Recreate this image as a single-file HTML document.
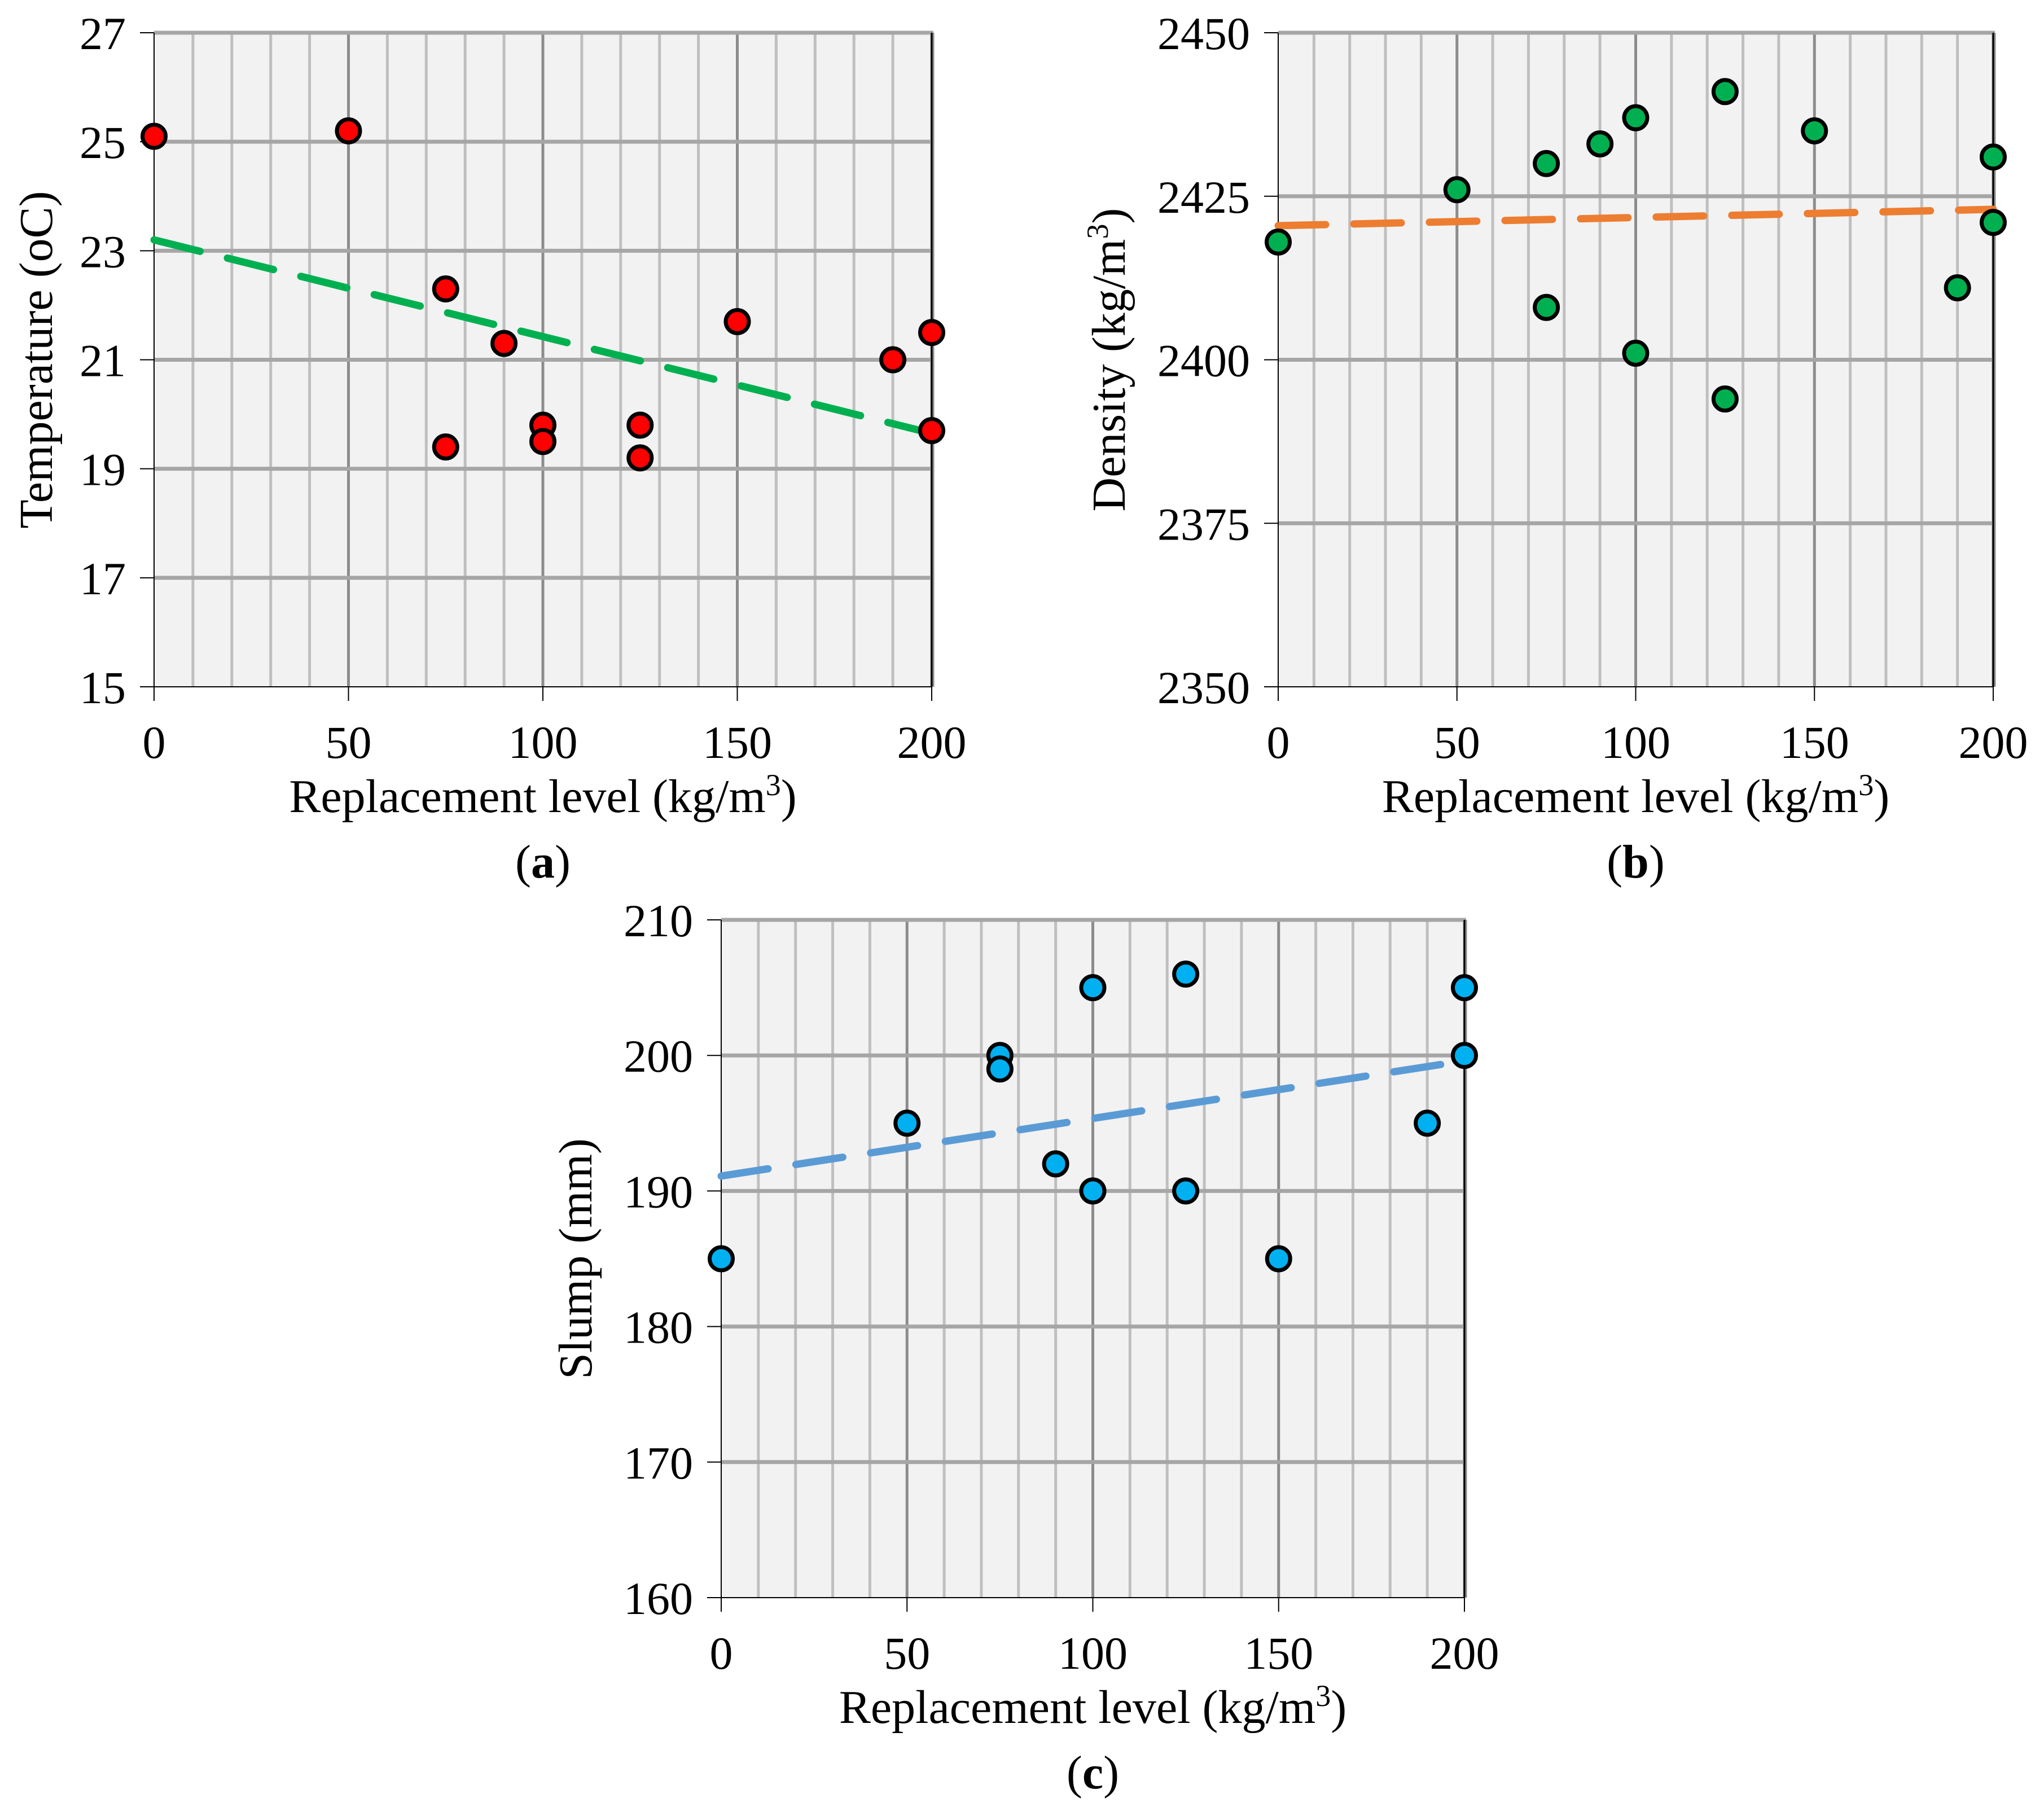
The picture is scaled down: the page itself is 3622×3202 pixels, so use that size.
<!DOCTYPE html>
<html><head><meta charset="utf-8"><style>
html,body{margin:0;padding:0;background:#fff}
svg{display:block}
text{font-family:"Liberation Serif",serif;fill:#000}
</style></head><body>
<svg id="fig" xmlns="http://www.w3.org/2000/svg" width="3622" height="3202" viewBox="0 0 3622 3202">
<rect width="3622" height="3202" fill="#fff"/>
</svg>
<script>
// ---- data: panel (a) temperature ----
const xA = [0,50,75,75,90,100,100,125,125,150,190,200,200];
const yA = [25.1,25.2,22.3,19.4,21.3,19.8,19.5,19.8,19.2,21.7,21.0,21.5,19.7];
const trendA = [23.2,19.65];
const yTicksA = [15,17,19,21,23,25,27];
// ---- data: panel (b) density ----
const xB = [0,50,75,75,90,100,100,125,125,150,190,200,200];
const yB = [2418,2426,2430,2408,2433,2437,2401,2441,2394,2435,2411,2431,2421];
const trendB = [2420.5,2423];
const yTicksB = [2350,2375,2400,2425,2450];
// ---- data: panel (c) slump ----
const xC = [0,50,75,75,90,100,100,125,125,150,190,200,200];
const yC = [185,195,200,199,192,205,190,206,190,185,195,205,200];
const trendC = [191.1,199.6];
const yTicksC = [160,170,180,190,200,210];
const xTicks = [0,50,100,150,200];
const trendX = [0,200];

const NS='http://www.w3.org/2000/svg';
const svg=document.getElementById('fig');
function mk(tag,attrs,parent){const e=document.createElementNS(NS,tag);for(const k in attrs)e.setAttribute(k,attrs[k]);(parent||svg).appendChild(e);return e;}

function panel(p){
  const g=mk('g',{});
  
  
  const yMin=p.yt[0], yMax=p.yt[p.yt.length-1];
  const sx=v=>p.L+(v-0)/(200-0)*(p.R-p.L);
  const sy=v=>p.B-(v-yMin)/(yMax-yMin)*(p.B-p.T);
  const bg=mk('rect',{x:p.L,y:p.T,width:p.R-p.L,height:p.B-p.T,fill:'#f2f2f2'},g);
  
  
  for(let v=10;v<=200;v+=10){
    const major=v%50===0;
    const ln=mk('line',{x1:sx(v),x2:sx(v),y1:p.T,y2:p.B,stroke:major?'#8c8c8c':'#bfbfbf','stroke-width':5},g);
    
    
  }
  p.yt.forEach((v,i)=>{
    if(i>0){
      const ln=mk('line',{x1:p.L,x2:p.R+3,y1:sy(v),y2:sy(v),stroke:'#a6a6a6','stroke-width':7},g);
      
      
    }
    mk('line',{x1:p.L-25,x2:p.L,y1:sy(v),y2:sy(v),stroke:'#000','stroke-width':2},g);
    const t=mk('text',{x:p.L-50,y:sy(v)+29,'text-anchor':'end','font-size':82},g);
    t.textContent=v;
    
    
  });
  mk('line',{x1:p.R,x2:p.R,y1:p.T,y2:p.B,stroke:'#000','stroke-width':3},g);
  mk('line',{x1:p.R+3,x2:p.R+3,y1:p.T,y2:p.B,stroke:'#8c8c8c','stroke-width':3},g);
  mk('line',{x1:p.L,x2:p.L,y1:p.T,y2:p.B+25,stroke:'#000','stroke-width':2},g);
  mk('line',{x1:p.L-25,x2:p.R,y1:p.B,y2:p.B,stroke:'#000','stroke-width':2},g);
  xTicks.forEach(v=>{
    mk('line',{x1:sx(v),x2:sx(v),y1:p.B,y2:p.B+25,stroke:'#000','stroke-width':2},g);
    const t=mk('text',{x:sx(v),y:p.B+126,'text-anchor':'middle','font-size':82},g);
    t.textContent=v;
    
    
  });
  const tr=mk('line',{x1:sx(trendX[0]),y1:sy(p.tr[0]),x2:sx(trendX[1]),y2:sy(p.tr[1]),stroke:p.lc,'stroke-width':13,'stroke-dasharray':'84 50','stroke-linecap':'round'},g);
  
  
  p.xs.forEach((x,i)=>{
    const c=mk('circle',{cx:sx(x),cy:sy(p.ys[i]),r:20.5,fill:p.mc,stroke:'#000','stroke-width':7},g);
    
    
  });
  const xt=mk('text',{x:(p.L+p.R)/2,y:p.B+222,'text-anchor':'middle','font-size':84},g);
  xt.innerHTML='Replacement level (kg/m<tspan dy="-30" font-size="54">3</tspan><tspan dy="30">)</tspan>';
  
  
  const yt=mk('text',{x:0,y:0,'text-anchor':'middle','font-size':84,transform:`translate(${p.yx},${(p.T+p.B)/2}) rotate(-90)`},g);
  yt.innerHTML=p.ytitle;
  
  
  const pl=mk('text',{x:(p.L+p.R)/2,y:p.B+338,'text-anchor':'middle','font-size':84},g);
  pl.innerHTML='(<tspan font-weight="bold">'+p.lab+'</tspan>)';
  
  
}
panel({name:'temperature-chart',L:273,R:1651,T:58,B:1217,yt:yTicksA,xs:xA,ys:yA,tr:trendA,lc:'#00b050',mc:'#ff0000',yx:92,ytitle:'Temperature (oC)',lab:'a'});
panel({name:'density-chart',L:2265,R:3532,T:58,B:1217,yt:yTicksB,xs:xB,ys:yB,tr:trendB,lc:'#ed7d31',mc:'#00b050',yx:1993,ytitle:'Density (kg/m<tspan dy="-30" font-size="54">3</tspan><tspan dy="30">)</tspan>',lab:'b'});
panel({name:'slump-chart',L:1278,R:2595,T:1630,B:2831,yt:yTicksC,xs:xC,ys:yC,tr:trendC,lc:'#5b9bd5',mc:'#00b0f0',yx:1048,ytitle:'Slump (mm)',lab:'c'});
</script>
</body></html>
